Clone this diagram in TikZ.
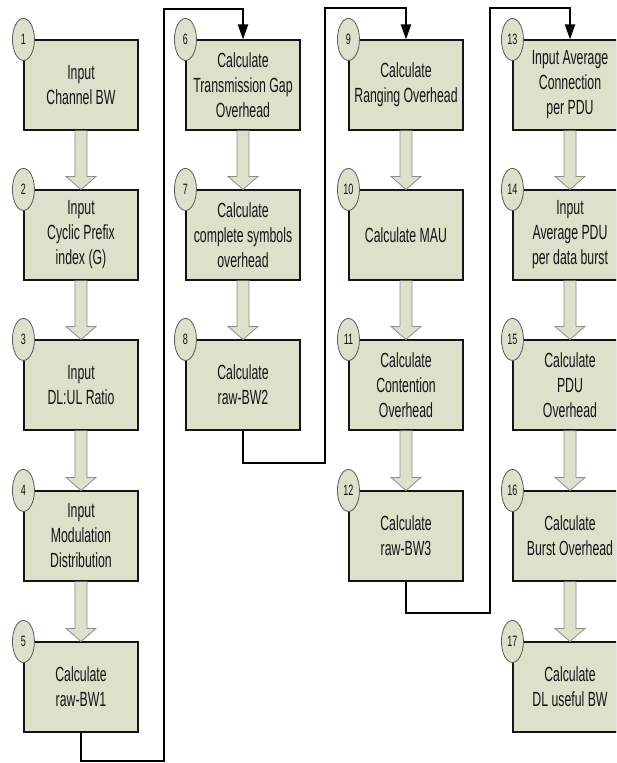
\documentclass[tikz,border=0pt]{standalone}
\usepackage{fontspec}
\setmainfont{Liberation Sans}[FakeStretch=0.6]
\usetikzlibrary{calc,arrows.meta,shapes.geometric,shadows}
\definecolor{boxfill}{HTML}{DDE0CB}
\definecolor{inkdark}{HTML}{141414}

% wide hollow arrow between two stacked steps
\newcommand\fatlink[2]{%
  \path[fatarrow] let \p1=(#1.south), \p2=(#2.north) in
    (\x1-6pt,\y1) -- (\x1-6pt,\y2+13pt) -- (\x1-15pt,\y2+13pt) -- (\x2,\y2)
    -- (\x1+15pt,\y2+13pt) -- (\x1+6pt,\y2+13pt) -- (\x1+6pt,\y1);}

\begin{document}
\begin{tikzpicture}[x=1pt,y=-1pt,
  stepbox/.style={rectangle, draw=inkdark, line width=1.1pt, fill=boxfill,
    minimum width=114pt, minimum height=90pt, inner sep=0pt, align=center,
    font=\fontsize{20.5}{25}\selectfont, text=inkdark,
    drop shadow={shadow xshift=1.4pt, shadow yshift=-1.4pt, fill=black!70, opacity=1}},
  numtag/.style={ellipse, draw=black!65, line width=0.8pt, fill=boxfill,
    minimum width=22pt, minimum height=42pt, inner sep=0pt,
    font=\fontsize{15}{15}\selectfont, text=inkdark},
  loopline/.style={draw=black, line width=2pt, line join=miter,
    -{Triangle[width=10pt,length=15pt]}},
  fatarrow/.style={draw=black!45, line width=0.8pt, fill=boxfill}]

\clip (0,0) rectangle (616,763);
\fill[white] (0,0) rectangle (616,763);

% column 1
\node[stepbox] (b1) at (81,85)  {Input\\Channel BW};
\node[stepbox] (b2) at (81,235) {Input\\Cyclic Prefix\\index (G)};
\node[stepbox] (b3) at (81,385) {Input\\DL:UL Ratio};
\node[stepbox] (b4) at (81,536) {Input\\Modulation\\Distribution};
\node[stepbox] (b5) at (81,687) {Calculate\\raw-BW1};
% column 2
\node[stepbox] (b6) at (243,85)  {Calculate\\Transmission Gap\\Overhead};
\node[stepbox] (b7) at (243,235) {Calculate\\complete symbols\\overhead};
\node[stepbox] (b8) at (243,385) {Calculate\\raw-BW2};
% column 3
\node[stepbox] (b9)  at (406,85)  {Calculate\\Ranging Overhead};
\node[stepbox] (b10) at (406,235) {Calculate MAU};
\node[stepbox] (b11) at (406,385) {Calculate\\Contention\\Overhead};
\node[stepbox] (b12) at (406,536) {Calculate\\raw-BW3};
% column 4
\node[stepbox] (b13) at (570,85)  {Input Average\\Connection\\per PDU};
\node[stepbox] (b14) at (570,235) {Input\\Average PDU\\per data burst};
\node[stepbox] (b15) at (570,385) {Calculate\\PDU\\Overhead};
\node[stepbox] (b16) at (570,536) {Calculate\\Burst Overhead};
\node[stepbox] (b17) at (570,687) {Calculate\\DL useful BW};

% step numbers
\foreach \i in {1,...,17}
  \node[numtag] (n\i) at (b\i.north west) {\i};

% links inside each column
\fatlink{b1}{b2}  \fatlink{b2}{b3}  \fatlink{b3}{b4}  \fatlink{b4}{b5}
\fatlink{b6}{b7}  \fatlink{b7}{b8}
\fatlink{b9}{b10} \fatlink{b10}{b11} \fatlink{b11}{b12}
\fatlink{b13}{b14} \fatlink{b14}{b15} \fatlink{b15}{b16} \fatlink{b16}{b17}

% jumps from the foot of one column to the head of the next
\coordinate (r1) at (164,761); \coordinate (u1) at (164,9);
\coordinate (r2) at (325,463); \coordinate (u2) at (325,8);
\coordinate (r3) at (490,613); \coordinate (u3) at (490,8);
\draw[loopline] (b5.south)  |- (r1) -- (u1) -| (b6.north);
\draw[loopline] (b8.south)  |- (r2) -- (u2) -| (b9.north);
\draw[loopline] (b12.south) |- (r3) -- (u3) -| (b13.north);
\end{tikzpicture}
\end{document}
